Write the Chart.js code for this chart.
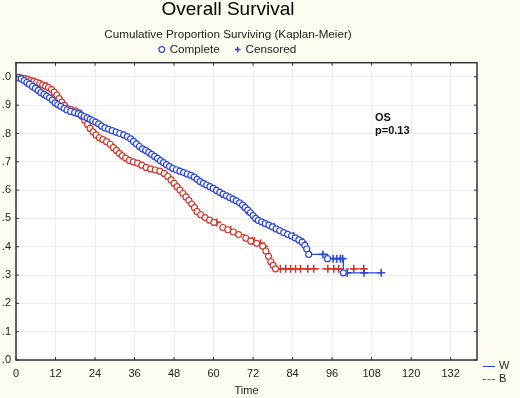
<!DOCTYPE html>
<html>
<head>
<meta charset="utf-8">
<script src="https://cdn.jsdelivr.net/npm/chart.js@4.4.1/dist/chart.umd.min.js"></script>
<style>
  body { margin: 0; background: #fefcf0; font-family: Arial, "Liberation Sans", sans-serif; }
  #wrap { position: relative; width: 520px; height: 398px; }
  .note { position: absolute; left: 375px; font-size: 11px; font-weight: bold; color: #111; line-height: 13px; }
  .key { position: absolute; left: 483px; font-size: 11px; color: #222; line-height: 12px; }
  .key span { display: inline-block; width: 12px; vertical-align: middle; margin-right: 4px; }
</style>
</head>
<body>
<div id="wrap">
  <canvas id="km"></canvas>
  <div class="note" style="top:111px">OS<br>p=0.13</div>
  <div class="key" style="top:359px"><span style="border-top:1.5px solid #2b47d6"></span>W</div>
  <div class="key" style="top:372px"><span style="border-top:1.5px dashed #cc3a2e"></span>B</div>
</div>
<script>
// Kaplan-Meier estimates (months, proportion surviving)
const wTime = [0, 0.8, 1.6, 2.5, 3.3, 4.1, 5.0, 5.9, 6.8, 7.6, 8.5, 9.3, 10.2, 11.0, 11.9, 12.7, 13.6, 14.6, 15.5, 16.6,
  17.8, 18.9, 19.8, 20.7, 21.6, 22.5, 23.3, 24.2, 25.1, 26.0, 27.0, 28.1, 29.2, 30.4, 31.5, 32.7, 33.8, 34.8, 35.7, 36.6,
  37.5, 38.4, 39.4, 40.3, 41.2, 42.1, 43.0, 43.9, 44.8, 45.7, 46.6, 47.6, 48.7, 49.8, 50.9, 52.0, 53.1, 54.1, 55.0, 55.9,
  56.9, 57.9, 58.9, 59.9, 60.9, 61.9, 62.9, 63.9, 64.9, 65.9, 66.9, 67.9, 68.8, 69.6, 70.4, 71.2, 72.0, 72.8, 73.6, 74.6,
  75.7, 76.8, 77.9, 79.0, 80.1, 81.3, 82.5, 83.7, 84.8, 85.9, 86.9, 87.7, 88.3, 88.9, 94.6, 99.4, 110.9];
const wSurv = [1.0, 0.997, 0.993, 0.987, 0.980, 0.974, 0.966, 0.959, 0.952, 0.944, 0.938, 0.932, 0.926, 0.918, 0.908, 0.902, 0.896, 0.889, 0.883, 0.878,
  0.874, 0.870, 0.865, 0.860, 0.855, 0.850, 0.845, 0.840, 0.834, 0.826, 0.820, 0.815, 0.810, 0.805, 0.800, 0.795, 0.789, 0.781, 0.772, 0.763,
  0.754, 0.746, 0.740, 0.733, 0.726, 0.719, 0.712, 0.704, 0.697, 0.690, 0.683, 0.677, 0.672, 0.667, 0.662, 0.657, 0.652, 0.646, 0.638, 0.630,
  0.624, 0.618, 0.612, 0.606, 0.599, 0.592, 0.586, 0.580, 0.574, 0.568, 0.562, 0.555, 0.547, 0.538, 0.529, 0.520, 0.510, 0.500, 0.493, 0.488,
  0.482, 0.476, 0.470, 0.463, 0.457, 0.450, 0.444, 0.438, 0.431, 0.424, 0.416, 0.405, 0.392, 0.373, 0.358, 0.308, 0.308];
const wCensTime = [62.4, 70.0, 78.4, 84.3, 87.2, 93.2, 96.3, 97.4, 98.5, 99.2, 100.6, 105.7, 110.9];
const wCensSurv = [0.586, 0.529, 0.470, 0.438, 0.416, 0.373, 0.358, 0.358, 0.358, 0.358, 0.308, 0.308, 0.308];

const bTime = [0, 0.9, 1.8, 2.7, 3.6, 4.5, 5.4, 6.3, 7.2, 8.1, 9.0, 9.9, 10.8, 11.6, 12.4, 13.1, 13.9, 14.7, 15.5, 16.7,
  18.0, 19.2, 20.1, 20.9, 21.7, 22.5, 23.4, 24.3, 25.3, 26.4, 27.5, 28.6, 29.6, 30.5, 31.4, 32.3, 33.3, 34.4, 35.6, 36.9,
  38.2, 39.5, 40.9, 42.3, 43.7, 45.0, 46.1, 47.1, 48.0, 48.9, 49.8, 50.7, 51.6, 52.5, 53.4, 54.2, 55.0, 56.1, 57.4, 58.8,
  60.1, 62.8, 64.3, 66.0, 67.6, 69.8, 71.3, 73.1, 74.9, 75.9, 76.7, 77.4, 78.1, 78.8, 105.6];
const bSurv = [1.0, 0.998, 0.996, 0.994, 0.991, 0.987, 0.984, 0.981, 0.977, 0.972, 0.967, 0.962, 0.955, 0.946, 0.936, 0.923, 0.911, 0.899, 0.889, 0.884,
  0.880, 0.873, 0.860, 0.846, 0.832, 0.818, 0.806, 0.795, 0.785, 0.778, 0.771, 0.762, 0.750, 0.740, 0.730, 0.721, 0.713, 0.705, 0.700, 0.695,
  0.688, 0.680, 0.675, 0.671, 0.667, 0.659, 0.648, 0.636, 0.624, 0.612, 0.600, 0.588, 0.576, 0.564, 0.551, 0.538, 0.524, 0.513, 0.503, 0.494,
  0.486, 0.468, 0.460, 0.452, 0.443, 0.430, 0.420, 0.412, 0.402, 0.385, 0.366, 0.347, 0.334, 0.322, 0.322];
const bCensTime = [5.6, 9.4, 61.0, 65.2, 71.8, 72.4, 74.3, 75.3, 80.3, 81.9, 83.4, 84.9, 86.4, 88.6, 90.4, 94.7, 96.5, 98.0, 102.6, 105.6];
const bCensSurv = [0.984, 0.967, 0.486, 0.460, 0.420, 0.420, 0.412, 0.402, 0.322, 0.322, 0.322, 0.322, 0.322, 0.322, 0.322, 0.322, 0.322, 0.322, 0.322, 0.322];

const xTicksStep = 12;
const yTicksStep = 0.1;

const blue = "#2b47d6";
const red = "#cc3a2e";

function toPoints(xs, ys) {
    return xs.map((x, i) => ({ x: x, y: ys[i] }));
}

// first point is the start at 1.0 and last one only carries the line to the last follow-up
function eventRadius(len) {
    return (ctx) => (ctx.dataIndex === 0 || ctx.dataIndex === len - 1) ? 0 : 3;
}

// white plot area plus a closed frame with inward tick marks
const framePlugin = {
    id: "frame",
    beforeDraw(chart) {
        const { ctx, chartArea: a } = chart;
        ctx.save();
        ctx.fillStyle = "#ffffff";
        ctx.fillRect(a.left, a.top, a.right - a.left, a.bottom - a.top);
        ctx.restore();
    },
    afterDraw(chart) {
        const { ctx, chartArea: a, scales } = chart;
        ctx.save();
        ctx.strokeStyle = "#333";
        ctx.lineWidth = 1.5;
        ctx.strokeRect(a.left, a.top, a.right - a.left, a.bottom - a.top);
        ctx.lineWidth = 1;
        ctx.beginPath();
        scales.x.ticks.forEach(t => {
            const px = scales.x.getPixelForValue(t.value);
            ctx.moveTo(px, a.bottom); ctx.lineTo(px, a.bottom - 3);
            ctx.moveTo(px, a.top); ctx.lineTo(px, a.top + 3);
        });
        scales.y.ticks.forEach(t => {
            const py = scales.y.getPixelForValue(t.value);
            ctx.moveTo(a.left, py); ctx.lineTo(a.left + 3, py);
            ctx.moveTo(a.right, py); ctx.lineTo(a.right - 3, py);
        });
        ctx.stroke();
        ctx.restore();
    }
};

Chart.defaults.font.family = 'Arial, "Liberation Sans", sans-serif';
Chart.defaults.color = "#222";

new Chart(document.getElementById("km"), {
    type: "line",
    data: {
        datasets: [
            {
                label: "W",
                data: toPoints(wTime, wSurv),
                stepped: true,
                borderColor: blue,
                borderWidth: 1.3,
                pointStyle: "circle",
                pointRadius: eventRadius(wTime.length),
                pointBorderColor: blue,
                pointBackgroundColor: "#fff",
                pointBorderWidth: 1.2
            },
            {
                label: "B",
                data: toPoints(bTime, bSurv),
                stepped: true,
                borderColor: red,
                borderWidth: 1.3,
                borderDash: [3, 3],
                pointStyle: "circle",
                pointRadius: eventRadius(bTime.length),
                pointBorderColor: red,
                pointBackgroundColor: "#fff",
                pointBorderWidth: 1.2
            },
            {
                label: "W censored",
                data: toPoints(wCensTime, wCensSurv),
                showLine: false,
                pointStyle: "cross",
                pointRadius: 4,
                pointBorderColor: blue,
                pointBorderWidth: 1.6
            },
            {
                label: "B censored",
                data: toPoints(bCensTime, bCensSurv),
                showLine: false,
                pointStyle: "cross",
                pointRadius: 4,
                pointBorderColor: red,
                pointBorderWidth: 1.6
            }
        ]
    },
    options: {
        responsive: true,
        maintainAspectRatio: false,
        animation: false,
        events: [],
        // negative left padding recentres the headings, the y axis width gives it back
        layout: { padding: { left: -21, right: 43, top: 0, bottom: 0 } },
        plugins: {
            tooltip: { enabled: false },
            title: {
                display: true,
                text: "Overall Survival",
                color: "#000",
                font: { size: 19, weight: "normal", lineHeight: 1 },
                padding: { top: 0, bottom: 10 }
            },
            subtitle: {
                display: true,
                text: "Cumulative Proportion Surviving (Kaplan-Meier)",
                color: "#222",
                font: { size: 11.7, lineHeight: 1 },
                padding: { top: 0, bottom: 0 }
            },
            legend: {
                display: true,
                position: "top",
                maxHeight: 22,
                labels: {
                    usePointStyle: true,
                    boxWidth: 4,
                    boxHeight: 4,
                    padding: 3,
                    font: { size: 11.7 },
                    generateLabels: () => [
                        { text: "Complete    ", pointStyle: "circle", fillStyle: "#fff", strokeStyle: blue, lineWidth: 1.2, fontColor: "#222" },
                        { text: "Censored", pointStyle: "cross", fillStyle: blue, strokeStyle: blue, lineWidth: 1.6, fontColor: "#222" }
                    ]
                }
            }
        },
        scales: {
            x: {
                type: "linear",
                min: 0,
                max: 140,
                border: { display: false },
                grid: { color: "#ededed", drawTicks: false },
                ticks: { stepSize: xTicksStep, includeBounds: false, padding: 7, font: { size: 11 }, maxRotation: 0 },
                title: { display: true, text: "Time", font: { size: 11 }, padding: { top: 4, bottom: 0 } },
                afterFit: (s) => { s.height = 38; }
            },
            y: {
                min: 0,
                max: 1.05,
                border: { display: false },
                grid: { color: "#ededed", drawTicks: false },
                ticks: {
                    stepSize: yTicksStep,
                    includeBounds: false,
                    padding: 5,
                    font: { size: 11 },
                    callback: (v) => v.toFixed(1).slice(1)
                },
                afterFit: (s) => { s.width = 37; }
            }
        }
    },
    plugins: [framePlugin]
});
</script>
</body>
</html>
